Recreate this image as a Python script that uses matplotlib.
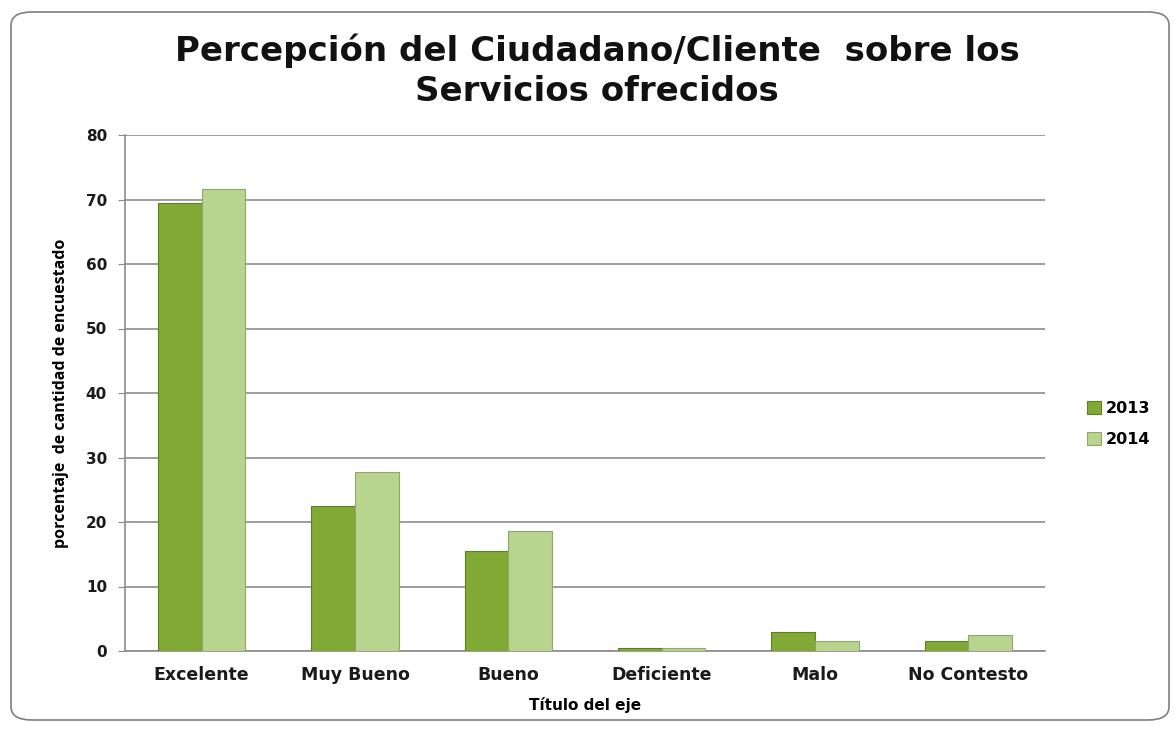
import matplotlib.pyplot as plt
import numpy as np
from matplotlib.patches import FancyBboxPatch

plt.rcParams['font.family'] = ['DejaVu Sans']

categorias = ['Excelente', 'Muy Bueno', 'Bueno', 'Deficiente', 'Malo', 'No Contesto']
v2013 = [69.5, 22.5, 15.5, 0.5, 2.9, 1.5]
v2014 = [71.6, 27.7, 18.6, 0.4, 1.5, 2.5]
yticks = [0, 10, 20, 30, 40, 50, 60, 70, 80]

fig = plt.figure(figsize=(11.74, 7.32), dpi=100)
ax = fig.add_axes([125/1174, 81/732, 920/1174, 516/732])

x = np.arange(len(categorias))
w = 0.285
ax.bar(x - w/2, v2013, w, color='#80a935', edgecolor='#5e7f22', linewidth=0.8, label='2013', zorder=3)
ax.bar(x + w/2, v2014, w, color='#b9d48e', edgecolor='#8fa86a', linewidth=0.8, label='2014', zorder=3)

ax.set_ylim(0, 80)
ax.set_xlim(-0.5, len(categorias) - 0.5)
ax.set_yticks(yticks)
ax.set_xticks(x)
ax.set_xticklabels(categorias, fontsize=12.5, fontweight='bold', color='#1a1a1a')
ax.tick_params(axis='y', labelsize=11, length=5, color='#888888', pad=8, labelcolor='#1a1a1a')
ax.tick_params(axis='x', length=0, pad=11)
for t in ax.get_yticklabels():
    t.set_fontweight('bold')
ax.yaxis.grid(True, color='#8c8c8c', linewidth=1.2, zorder=0)
for s in ['top', 'right']:
    ax.spines[s].set_visible(False)
ax.spines['left'].set_color('#8c8c8c')
ax.spines['bottom'].set_color('#8c8c8c')
ax.spines['left'].set_linewidth(1.2)
ax.spines['bottom'].set_linewidth(1.2)

ax.set_xlabel('Título del eje', fontsize=11, fontweight='bold', labelpad=9)
ax.set_ylabel('porcentaje  de cantidad de encuestado', fontsize=11.5, fontweight='bold',
              family=['Open Sans', 'DejaVu Sans'], labelpad=12)

fig.text(597/1174, 1 - 71/732, 'Percepción del Ciudadano/Cliente  sobre los\nServicios ofrecidos',
         ha='center', va='center', fontsize=24.5, fontweight='bold', linespacing=1.25, color='#111111')

ax.legend(loc='center left', bbox_to_anchor=(1.03, 0.44), frameon=False,
          handlelength=0.9, handleheight=0.9, handletextpad=0.3, labelspacing=1.0,
          prop={'weight': 'bold', 'size': 11.5})

border = FancyBboxPatch((11/1174, 12/732), 1158/1174, 708/732, boxstyle='round,pad=0,rounding_size=0.018',
                        transform=fig.transFigure, fill=False, edgecolor='#7f7f7f', linewidth=1.2)
fig.patches.append(border)

fig.savefig('out.png', dpi=100)
